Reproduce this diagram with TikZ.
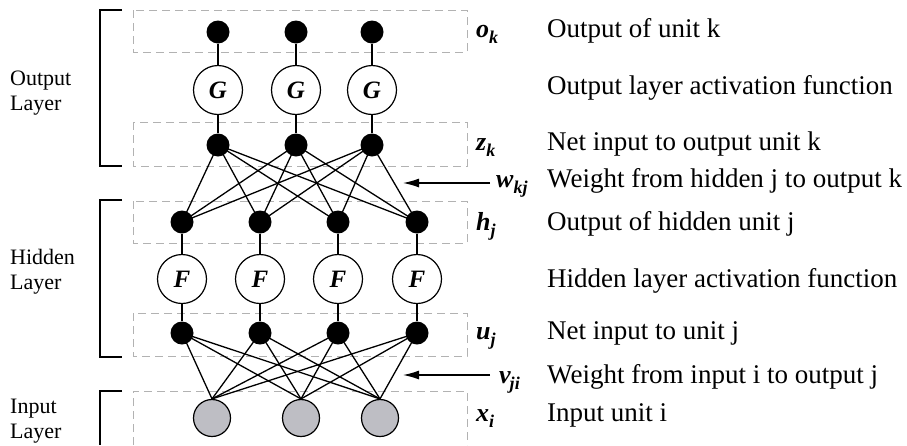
\documentclass[tikz,border=0pt]{standalone}
\usepackage{fontspec}
\setmainfont{Liberation Serif}
\usetikzlibrary{arrows.meta}
\definecolor{unitgray}{RGB}{190,190,196}
\definecolor{bandgray}{RGB}{178,178,178}
% bold italic variable with a subscript
\newcommand\unitvar[3][0pt]{#2\kern#1\raisebox{-6pt}{\fontsize{18}{18}\selectfont #3}}
\tikzset{
  dot/.style={circle,fill=black,inner sep=0pt,minimum size=23pt},
  act/.style={circle,draw,line width=1.2pt,inner sep=0pt,minimum size=49pt,
    font=\fontsize{25}{25}\selectfont\bfseries\itshape},
  inp/.style={circle,draw,fill=unitgray,line width=1.2pt,inner sep=0pt,minimum size=37pt},
  wire/.style={line width=1.3pt},
  band/.style={draw=bandgray,dash pattern=on 8pt off 5pt,line width=1pt},
  bracket/.style={line width=1.3pt},
  desc/.style={anchor=base west,inner sep=0pt,font=\fontsize{27}{31}\selectfont},
  sym/.style={anchor=base west,inner sep=0pt,font=\fontsize{26}{30}\selectfont\bfseries\itshape},
  layer/.style={anchor=west,align=left,inner sep=0pt,font=\fontsize{22}{25}\selectfont},
  pointer/.style={line width=1.3pt,-{Latex[length=16pt,width=9pt]}}
}
\begin{document}
\begin{tikzpicture}[x=1pt,y=-1pt]
\useasboundingbox (0,0) rectangle (907,445);

% dashed bands around each row of units
\draw[band] (133,10) rectangle (467,52);
\draw[band] (133,122) rectangle (467,166);
\draw[band] (133,201) rectangle (467,243);
\draw[band] (133,313) rectangle (467,356);
\draw[band] (133,445) -- (133,391) -- (467,391) -- (467,445);

% layer brackets
\draw[bracket] (122,10) -- (100,10) -- (100,166) -- (122,166);
\draw[bracket] (122,200) -- (100,200) -- (100,357) -- (122,357);
\draw[bracket] (122,391) -- (100,391) -- (100,445);

\node[layer] (lout) at (10,93) {Output\\Layer};
\node[layer] (lhid) at (10,272) {Hidden\\Layer};
\node[layer] (linp) at (10,421) {Input\\Layer};

% output layer
\foreach \i/\x in {1/218,2/296,3/372}{
  \node[dot] (o\i) at (\x,32) {};
  \node[act] (g\i) at (\x,90) {G};
  \node[dot] (z\i) at (\x,145) {};
  \draw[wire] (o\i) -- (g\i) -- (z\i);
}
% hidden layer
\foreach \i/\x in {1/182,2/260,3/338,4/417}{
  \node[dot] (h\i) at (\x,222) {};
  \node[act] (f\i) at (\x,279) {F};
  \node[dot] (u\i) at (\x,333) {};
  \draw[wire] (h\i) -- (f\i) -- (u\i);
}
% input layer
\foreach \i/\x in {1/212,2/301,3/380}{
  \node[inp] (x\i) at (\x,418) {};
}

% weights
\foreach \k in {1,2,3}{
  \foreach \j in {1,2,3,4}{
    \draw[wire] (z\k.center) -- (h\j.center);
  }
}
\foreach \i in {1,2,3}{
  \foreach \j in {1,2,3,4}{
    \draw[wire] (x\i.north) -- (u\j.center);
  }
}

% pointers to the weight layers
\coordinate (wtail) at (490,183);
\coordinate (whead) at (403,183);
\coordinate (vtail) at (490,375);
\coordinate (vhead) at (403,375);
\draw[pointer] (wtail) -- (whead);
\draw[pointer] (vtail) -- (vhead);

% symbols
\node[sym] (so) at (476,37) {\unitvar{o}{k}};
\node[sym] (sz) at (476,150) {\unitvar{z}{k}};
\node[sym] (sw) at (496,187) {\unitvar{w}{kj}};
\node[sym] (sh) at (476,230) {\unitvar{h}{j}};
\node[sym] (su) at (476,339) {\unitvar{u}{j}};
\node[sym] (sv) at (499,383) {\unitvar[-1pt]{v}{ji}};
\node[sym] (sx) at (476,421) {\unitvar{x}{i}};

% descriptions
\node[desc] (d1) at (547,37) {Output of unit k};
\node[desc] (d2) at (547,94) {Output layer activation function};
\node[desc] (d3) at (547,150) {Net input to output unit k};
\node[desc] (d4) at (547,187) {Weight from hidden j to output k};
\node[desc] (d5) at (547,230) {Output of hidden unit j};
\node[desc] (d6) at (547,287) {Hidden layer activation function};
\node[desc] (d7) at (547,339) {Net input to unit j};
\node[desc] (d8) at (547,383) {Weight from input i to output j};
\node[desc] (d9) at (547,421) {Input unit i};
\end{tikzpicture}
\end{document}
